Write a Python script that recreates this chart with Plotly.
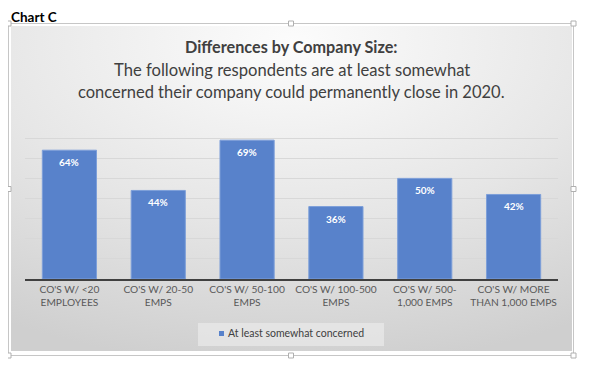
import plotly.graph_objects as go

categories = ["CO'S W/ <20<br>EMPLOYEES", "CO'S W/ 20-50<br>EMPS", "CO'S W/ 50-100<br>EMPS",
              "CO'S W/ 100-500<br>EMPS", "CO'S W/ 500-<br>1,000 EMPS", "CO'S W/ MORE<br>THAN 1,000 EMPS"]
values = [0.64, 0.44, 0.69, 0.36, 0.50, 0.42]
series_name = "At least somewhat concerned"
title_lines = ["<b>Differences by Company Size:</b>",
               "The following respondents are at least somewhat",
               "concerned their company could permanently close in 2020."]
y_ticks = [0, 0.1, 0.2, 0.3, 0.4, 0.5, 0.6, 0.7, 0.8]

# page body has an 8px margin: figure is sized to fit the window after it
OFF = 8
W, H = 595 - OFF, 366 - OFF
FONT = "Lato"
BAR = "#5882cb"

def px(x):
    return (x - OFF) / W

def py(y):
    return 1 - (y - OFF) / H

fig = go.Figure()
fig.add_trace(go.Bar(
    x=categories, y=values, name=series_name,
    marker=dict(color=BAR, line=dict(color="#7d9fd9", width=1)),
    showlegend=False,
))

annotations = []
for c, v in zip(categories, values):
    annotations.append(dict(x=c, y=v, xref="x", yref="y", text=f"<b>{round(v*100)}%</b>",
                            showarrow=False, yshift=-12, yanchor="middle",
                            font=dict(family=FONT, size=10, color="white")))

title_y = [47, 70, 92]
title_sz = [16.2, 16.6, 16.5]
for t, yy, sz in zip(title_lines, title_y, title_sz):
    annotations.append(dict(x=px(291.5), y=py(yy), xref="paper", yref="paper", text=t,
                            showarrow=False, xanchor="center", yanchor="middle",
                            font=dict(family=FONT, size=sz, color="#404040")))

annotations.append(dict(x=px(10), y=py(17), xref="paper", yref="paper", text="<b>Chart C</b>",
                        showarrow=False, xanchor="left", yanchor="middle", borderpad=0,
                        font=dict(family=FONT, size=13.5, color="#000000")))

# legend entry (small square + label)
annotations.append(dict(x=px(226), y=py(333), xref="paper", yref="paper", text=series_name,
                        showarrow=False, xanchor="left", yanchor="middle",
                        font=dict(family=FONT, size=10.5, color="#404040")))

svg = ("data:image/svg+xml;utf8,"
       "<svg xmlns='http://www.w3.org/2000/svg' width='561' height='325' preserveAspectRatio='none'>"
       "<defs><radialGradient id='g' cx='50%25' cy='5%25' r='100%25'>"
       "<stop offset='0' stop-color='%23fcfcfc'/><stop offset='0.55' stop-color='%23e6e6e6'/>"
       "<stop offset='1' stop-color='%23cfcfcf'/></radialGradient></defs>"
       "<rect width='561' height='325' fill='url(%23g)'/></svg>")

shapes = [
    dict(type="rect", xref="paper", yref="paper", x0=px(8.5), x1=px(573.5), y0=py(355.5), y1=py(23.5),
         line=dict(color="#c6c6c6", width=1), fillcolor="rgba(0,0,0,0)", layer="below"),
    dict(type="rect", xref="paper", yref="paper", x0=px(198), x1=px(384), y0=py(346), y1=py(323),
         line=dict(width=0), fillcolor="rgba(240,240,240,0.55)", layer="below"),
    dict(type="rect", xref="paper", yref="paper", x0=px(219), x1=px(224), y0=py(336), y1=py(331),
         line=dict(width=0), fillcolor=BAR, layer="above"),
]
for hx, hy in [(8.5, 23.5), (291, 23.5), (573.5, 23.5), (8.5, 189), (573.5, 189),
               (8.5, 355.5), (291, 355.5), (573.5, 355.5)]:
    shapes.append(dict(type="rect", xref="paper", yref="paper",
                       x0=px(hx - 2.5), x1=px(hx + 2.5), y0=py(hy + 2.5), y1=py(hy - 2.5),
                       line=dict(color="#b0b0b0", width=1), fillcolor="white", layer="above"))

fig.update_layout(
    width=W, height=H,
    margin=dict(l=0, r=0, t=0, b=0),
    paper_bgcolor="white", plot_bgcolor="rgba(0,0,0,0)",
    bargap=0.39,
    showlegend=False,
    font=dict(family=FONT, color="#595959"),
    xaxis=dict(domain=[px(25), px(558)], showline=True, linecolor="#404040", linewidth=1.5,
               tickfont=dict(family=FONT, size=10.2, color="#595959"), ticks="", showgrid=False,
               fixedrange=True),
    yaxis=dict(domain=[py(279), py(118)], range=[0, 0.8], tickvals=y_ticks, showticklabels=False,
               showgrid=True, gridcolor="#d8d8d8", gridwidth=1, zeroline=False, ticks=""),
    annotations=annotations,
    shapes=shapes,
    images=[dict(source=svg, xref="paper", yref="paper", x=px(11), y=py(26),
                 sizex=561 / W, sizey=325 / H, sizing="stretch", layer="below",
                 xanchor="left", yanchor="top")],
)

fig.write_html("out.html")
